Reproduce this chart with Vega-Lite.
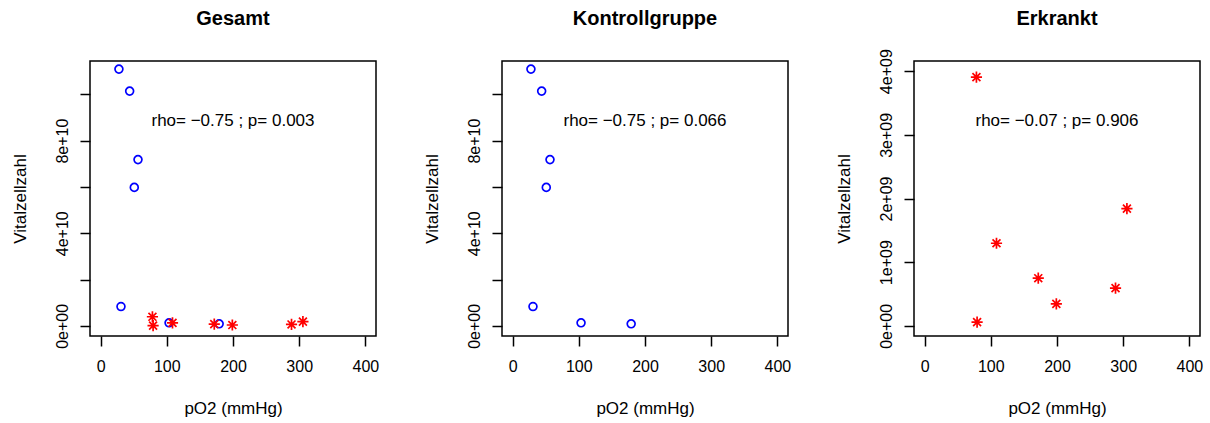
{
  "$schema": "https://vega.github.io/schema/vega-lite/v6.json",
  "autosize": {"type": "pad"},
  "padding": {"left": 10, "top": 7, "right": 0, "bottom": 0},
  "background": "white",
  "bounds": "flush",
  "spacing": 126,
  "config": {
    "view": {"stroke": "black", "strokeWidth": 1.5},
    "font": "Liberation Sans",
    "axis": {
      "domain": false, "grid": false, "ticks": true, "tickColor": "black", "tickSize": 10, "tickWidth": 1.5,
      "labelFont": "Liberation Sans", "labelFontSize": 16, "labelColor": "black", "labelOverlap": false, "labelFlush": false,
      "titleFont": "Liberation Sans", "titleFontSize": 17, "titleFontWeight": "normal", "titleColor": "black"
    },
    "axisX": {"labelBaseline": "alphabetic", "labelPadding": 25, "titleBaseline": "alphabetic", "titleY": 77, "titleAlign": "center"},
    "axisY": {"labelAngle": 270, "labelAlign": "center", "labelBaseline": "alphabetic", "labelPadding": 13, "titleAngle": 270, "titleBaseline": "alphabetic", "titleAlign": "center", "titleX": -65, "titleY": 137.5},
    "title": {"font": "Liberation Sans", "fontSize": 20, "fontWeight": "bold", "color": "black", "baseline": "alphabetic", "offset": 32, "frame": "group", "anchor": "middle"}
  },
  "datasets": {
    "pts": [
      {"grp": "Kontrolle", "pO2": 27.7, "V": 110.9e9},
      {"grp": "Kontrolle", "pO2": 43.9, "V": 101.4e9},
      {"grp": "Kontrolle", "pO2": 56.5, "V": 71.8e9},
      {"grp": "Kontrolle", "pO2": 50.9, "V": 59.8e9},
      {"grp": "Kontrolle", "pO2": 30.8, "V": 8.33e9},
      {"grp": "Kontrolle", "pO2": 103.4, "V": 1.29e9},
      {"grp": "Kontrolle", "pO2": 179.1, "V": 0.86e9},
      {"grp": "Erkrankt", "pO2": 78.3, "V": 3.906e9},
      {"grp": "Erkrankt", "pO2": 79.3, "V": 0.0575e9},
      {"grp": "Erkrankt", "pO2": 108.6, "V": 1.297e9},
      {"grp": "Erkrankt", "pO2": 171.7, "V": 0.748e9},
      {"grp": "Erkrankt", "pO2": 199.0, "V": 0.345e9},
      {"grp": "Erkrankt", "pO2": 288.4, "V": 0.591e9},
      {"grp": "Erkrankt", "pO2": 305.6, "V": 1.84e9}
    ],
    "ann": [
      {"panel": "Gesamt", "pO2": 200, "V": 86.3e9, "label": "rho= −0.75 ; p= 0.003"},
      {"panel": "Kontrollgruppe", "pO2": 200, "V": 86.3e9, "label": "rho= −0.75 ; p= 0.066"},
      {"panel": "Erkrankt", "pO2": 200, "V": 3.142e9, "label": "rho= −0.07 ; p= 0.906"}
    ]
  },
  "hconcat": [
    {
      "title": "Gesamt",
      "width": 286, "height": 275,
      "encoding": {
        "x": {"field": "pO2", "type": "quantitative", "scale": {"domain": [-16, 416], "nice": false, "zero": false},
              "axis": {"values": [0, 100, 200, 300, 400], "title": "pO2 (mmHg)"}},
        "y": {"field": "V", "type": "quantitative", "scale": {"domain": [-4.4e9, 114.4e9], "nice": false, "zero": false},
              "axis": {"values": [0, 2e10, 4e10, 6e10, 8e10, 1e11], "title": "Vitalzellzahl",
                       "labelExpr": "datum.value == 0 ? '0e+00' : datum.value == 4e10 ? '4e+10' : datum.value == 8e10 ? '8e+10' : ''"}}
      },
      "layer": [
        {
          "data": {"name": "pts"},
          "mark": {"type": "point", "filled": false, "strokeWidth": 1.7, "opacity": 1},
          "encoding": {
            "color": {"field": "grp", "type": "nominal", "scale": {"domain": ["Kontrolle", "Erkrankt"], "range": ["#0000FF", "#FF0000"]}, "legend": null},
            "shape": {"field": "grp", "type": "nominal", "scale": {"domain": ["Kontrolle", "Erkrankt"], "range": ["circle", "M-1,0L1,0M0,-1L0,1M-0.71,-0.71L0.71,0.71M-0.71,0.71L0.71,-0.71"]}, "legend": null},
            "size": {"field": "grp", "type": "nominal", "scale": {"domain": ["Kontrolle", "Erkrankt"], "range": [62, 125]}, "legend": null}
          }
        },
        {
          "data": {"name": "ann"},
          "transform": [{"filter": "datum.panel == 'Gesamt'"}],
          "mark": {"type": "text", "font": "Liberation Sans", "fontSize": 17, "align": "center", "baseline": "alphabetic", "color": "black"},
          "encoding": {"text": {"field": "label"}}
        }
      ]
    },
    {
      "title": "Kontrollgruppe",
      "width": 286, "height": 275,
      "encoding": {
        "x": {"field": "pO2", "type": "quantitative", "scale": {"domain": [-16, 416], "nice": false, "zero": false},
              "axis": {"values": [0, 100, 200, 300, 400], "title": "pO2 (mmHg)"}},
        "y": {"field": "V", "type": "quantitative", "scale": {"domain": [-4.4e9, 114.4e9], "nice": false, "zero": false},
              "axis": {"values": [0, 2e10, 4e10, 6e10, 8e10, 1e11], "title": "Vitalzellzahl",
                       "labelExpr": "datum.value == 0 ? '0e+00' : datum.value == 4e10 ? '4e+10' : datum.value == 8e10 ? '8e+10' : ''"}}
      },
      "layer": [
        {
          "data": {"name": "pts"},
          "transform": [{"filter": "datum.grp == 'Kontrolle'"}],
          "mark": {"type": "point", "filled": false, "strokeWidth": 1.7, "opacity": 1},
          "encoding": {
            "color": {"field": "grp", "type": "nominal", "scale": {"domain": ["Kontrolle", "Erkrankt"], "range": ["#0000FF", "#FF0000"]}, "legend": null},
            "shape": {"field": "grp", "type": "nominal", "scale": {"domain": ["Kontrolle", "Erkrankt"], "range": ["circle", "M-1,0L1,0M0,-1L0,1M-0.71,-0.71L0.71,0.71M-0.71,0.71L0.71,-0.71"]}, "legend": null},
            "size": {"field": "grp", "type": "nominal", "scale": {"domain": ["Kontrolle", "Erkrankt"], "range": [62, 125]}, "legend": null}
          }
        },
        {
          "data": {"name": "ann"},
          "transform": [{"filter": "datum.panel == 'Kontrollgruppe'"}],
          "mark": {"type": "text", "font": "Liberation Sans", "fontSize": 17, "align": "center", "baseline": "alphabetic", "color": "black"},
          "encoding": {"text": {"field": "label"}}
        }
      ]
    },
    {
      "title": {"text": "Erkrankt", "offset": 20},
      "width": 286, "height": 275,
      "encoding": {
        "x": {"field": "pO2", "type": "quantitative", "scale": {"domain": [-16, 416], "nice": false, "zero": false},
              "axis": {"values": [0, 100, 200, 300, 400], "title": "pO2 (mmHg)"}},
        "y": {"field": "V", "type": "quantitative", "scale": {"domain": [-0.16e9, 4.16e9], "nice": false, "zero": false},
              "axis": {"values": [0, 1e9, 2e9, 3e9, 4e9], "title": "Vitalzellzahl",
                       "labelExpr": "datum.value == 0 ? '0e+00' : format(datum.value / 1e9, 'd') + 'e+09'"}}
      },
      "layer": [
        {
          "data": {"name": "pts"},
          "transform": [{"filter": "datum.grp == 'Erkrankt'"}],
          "mark": {"type": "point", "filled": false, "strokeWidth": 1.7, "opacity": 1},
          "encoding": {
            "color": {"field": "grp", "type": "nominal", "scale": {"domain": ["Kontrolle", "Erkrankt"], "range": ["#0000FF", "#FF0000"]}, "legend": null},
            "shape": {"field": "grp", "type": "nominal", "scale": {"domain": ["Kontrolle", "Erkrankt"], "range": ["circle", "M-1,0L1,0M0,-1L0,1M-0.71,-0.71L0.71,0.71M-0.71,0.71L0.71,-0.71"]}, "legend": null},
            "size": {"field": "grp", "type": "nominal", "scale": {"domain": ["Kontrolle", "Erkrankt"], "range": [62, 125]}, "legend": null}
          }
        },
        {
          "data": {"name": "ann"},
          "transform": [{"filter": "datum.panel == 'Erkrankt'"}],
          "mark": {"type": "text", "font": "Liberation Sans", "fontSize": 17, "align": "center", "baseline": "alphabetic", "color": "black"},
          "encoding": {"text": {"field": "label"}}
        }
      ]
    }
  ],
  "resolve": {"scale": {"y": "independent"}}
}
